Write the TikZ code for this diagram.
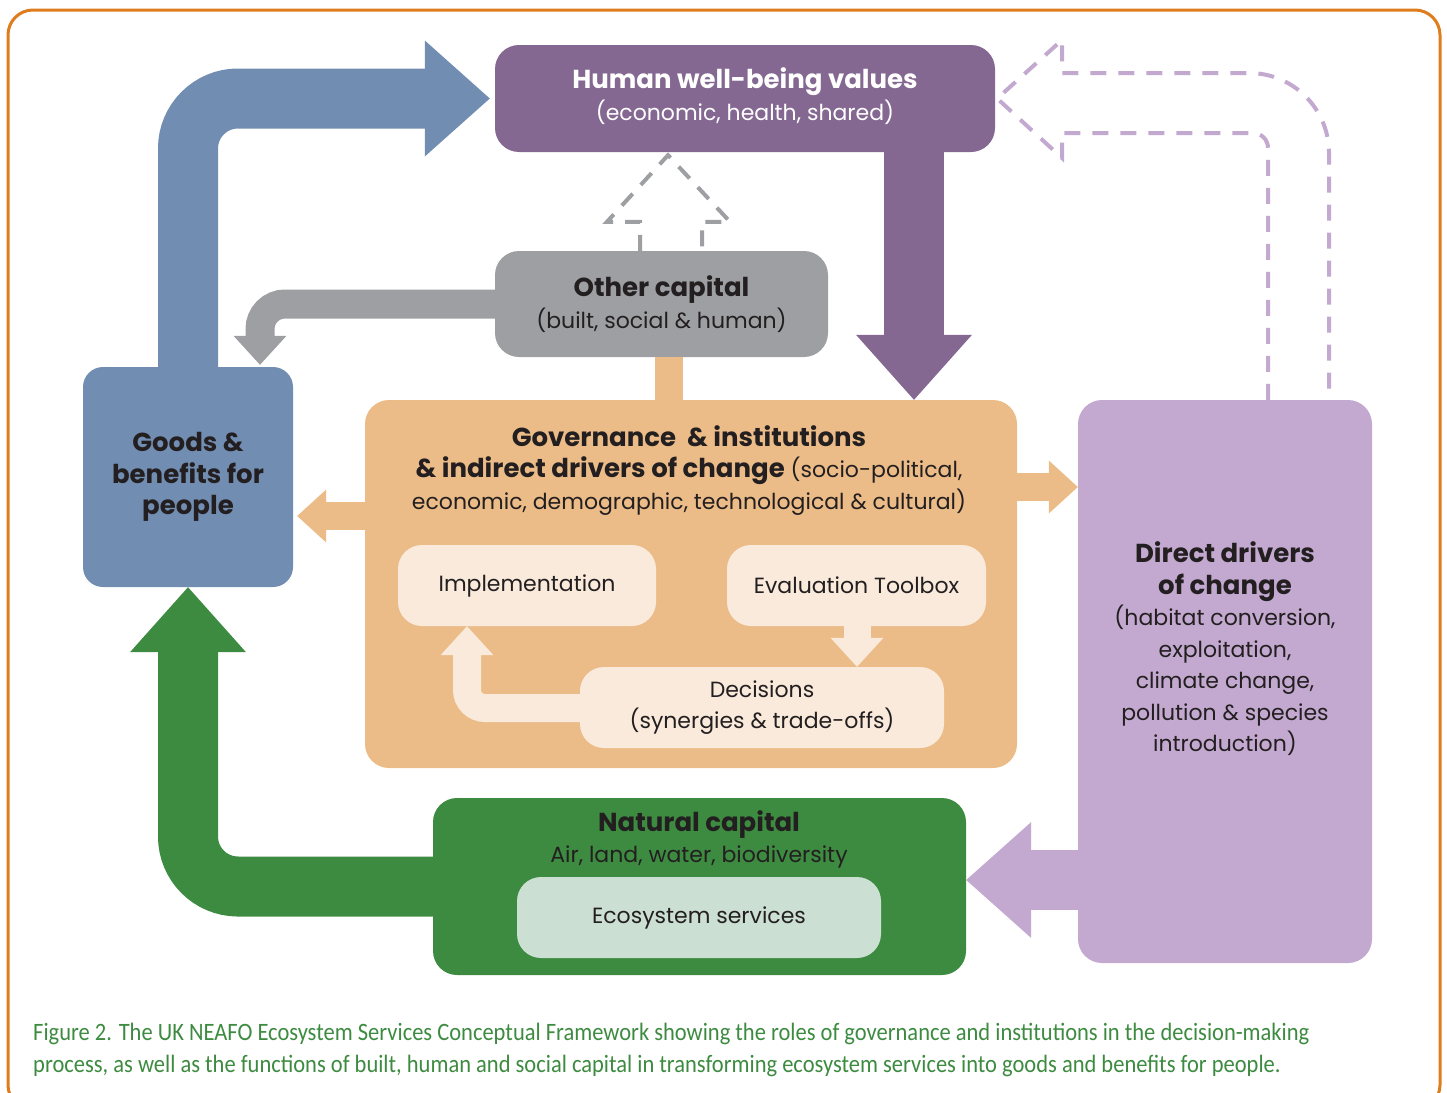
\documentclass[tikz,border=0pt]{standalone}
\usepackage{fontspec}
\setmainfont{Poppins}
\newfontfamily\capfont[FakeStretch=0.9]{Carlito}
\usetikzlibrary{arrows.meta,calc}

\definecolor{framecol}{RGB}{222,124,30}
\definecolor{wellcol}{RGB}{132,104,146}
\definecolor{othercol}{RGB}{157,159,162}
\definecolor{goodscol}{RGB}{114,141,178}
\definecolor{govcol}{RGB}{236,188,136}
\definecolor{creamcol}{RGB}{249,234,219}
\definecolor{drivecol}{RGB}{195,169,207}
\definecolor{natcol}{RGB}{61,139,64}
\definecolor{ecocol}{RGB}{204,223,211}
\definecolor{ink}{RGB}{35,31,32}

\newcommand{\bodytxt}{\fontsize{22}{31.5}\selectfont}
\newcommand{\headtxt}{\fontsize{26}{31.5}\selectfont\bfseries}

\tikzset{
  box/.style={rectangle, rounded corners=24pt, inner sep=0pt, align=center, text=ink, font=\bodytxt},
  fat/.style={line width=60pt, rounded corners=50pt, -{Triangle[length=65pt,width=116pt,line width=0pt]}},
  slim/.style={line width=28pt, rounded corners=24pt, -{Triangle[length=29pt,width=53pt,line width=0pt]}},
  dashline/.style={line width=4pt, dash pattern=on 16pt off 12pt},
}

\begin{document}
\begin{tikzpicture}[x=1pt,y=-1pt]
\useasboundingbox (0,0) rectangle (1447,1092);
\clip (0,0) rectangle (1447,1092);
\draw[framecol, line width=3pt, rounded corners=25pt] (8,10) rectangle (1440,1110);

% boxes
\node[box, fill=wellcol, minimum width=500pt, minimum height=107pt] (wellbeing) at (745,98.5) {};
\node[box, text=white] (welltext) at (745,96)
  {{\headtxt Human well-being values}\\(economic, health, shared)};
\node[box, fill=othercol, minimum width=333pt, minimum height=106pt] (other) at (661.5,304)
  {{\headtxt Other capital}\\(built, social \& human)};
\node[box, fill=goodscol, rounded corners=20pt, font=\headtxt, minimum width=210pt, minimum height=220pt] (goods) at (188,477)
  {Goods \&\\benefits for\\people};
\node[box, fill=govcol, minimum width=652pt, minimum height=368pt] (gov) at (691,584) {};
\node[box, anchor=north] (govtext) at (689,425)
  {{\headtxt Governance\ \ \& institutions}\\{\headtxt \& indirect drivers of change} (socio-political,\\economic, demographic, technological \& cultural)};
\node[box, fill=creamcol, minimum width=258pt, minimum height=81pt] (impl) at (527,585.5) {Implementation};
\node[box, fill=creamcol, minimum width=259pt, minimum height=81pt] (eval) at (856.5,585.5) {Evaluation Toolbox};
\node[box, fill=creamcol, minimum width=364pt, minimum height=81pt] (decisions) at (762,707.5)
  {Decisions\\(synergies \& trade-offs)};
\node[box, fill=drivecol, minimum width=294pt, minimum height=563pt] (drivers) at (1225,681.5) {};
\node[box] (drivetext) at (1225,649)
  {{\headtxt Direct drivers}\\{\headtxt of change}\\(habitat conversion,\\exploitation,\\climate change,\\pollution \& species\\introduction)};
\node[box, fill=natcol, minimum width=533pt, minimum height=177pt] (natural) at (699.5,886.5) {};
\node[box, anchor=north] (nattext) at (699,810)
  {{\headtxt Natural capital}\\Air, land, water, biodiversity};
\node[box, fill=ecocol, minimum width=364pt, minimum height=81pt] (eco) at (699,917.5) {Ecosystem services};

% helper coordinates
\coordinate (grayx) at (260,0);
\coordinate (purplex) at (914,0);
\coordinate (lavy) at (0,880);
\coordinate (orly) at (0,516);
\coordinate (orry) at (0,487);
\coordinate (linkx) at (669,0);
\coordinate (decy) at (0,708);
\coordinate (implx) at (467,0);
\coordinate (evalx) at (857,0);
\coordinate (dgl) at (640,0);
\coordinate (dgm) at (668,0);
\coordinate (dgr) at (702,0);
\coordinate (dvl) at (1268,0);
\coordinate (dvr) at (1329,0);

% big arrows
\draw[fat, goodscol] (goods.north) |- ([xshift=-5pt]wellbeing.west);
\draw[fat, wellcol] (wellbeing.south -| purplex) -- (gov.north -| purplex);
\draw[fat, drivecol] (drivers.west |- lavy) -- (natural.east |- lavy);
\draw[fat, natcol] (natural.west) -| (goods.south);
\draw[slim, othercol, line width=29pt, rounded corners=25pt, shorten >=2pt] (other.west) -| (goods.north -| grayx);

% orange arrows
\draw[slim, govcol, shorten >=4pt] (gov.west |- orly) -- (goods.east |- orly);
\draw[slim, govcol] (gov.east |- orry) -- (drivers.west |- orry);
\draw[govcol, line width=28pt] (other.south -| linkx) -- (gov.north -| linkx);

% inner arrows
\draw[slim, creamcol, rounded corners=18pt] (decisions.west |- decy) -| (impl.south -| implx);
\draw[slim, creamcol, line width=27pt] (eval.south -| evalx) -- (decisions.north -| evalx);

% dashed outline arrows
\draw[dashline, othercol] (other.north -| dgl) -- ++(0,-29) -- ++(-33,0)
  -- ($(wellbeing.south -| dgm)+(0,3)$) -- ($(other.north -| dgr)+(28,-29)$) -- ++(-28,0) -- (other.north -| dgr);
\draw[dashline, drivecol] (drivers.north -| dvl) [rounded corners=15pt] -- (1268,133)
  [sharp corners] -- (1062,133) -- (1062,158) -- ($(wellbeing.east)+(2,0)$) -- (1062,40) -- (1062,73)
  [rounded corners=80pt] -- (1329,73) [sharp corners] -- (drivers.north -| dvr);

% caption
\node[anchor=north west, align=left, inner sep=0pt, text=natcol, font=\capfont\fontsize{25}{32}\selectfont] (caption) at (33,1023)
  {Figure 2. The UK NEAFO Ecosystem Services Conceptual Framework showing the roles of governance and institutions in the decision-making\\process, as well as the functions of built, human and social capital in transforming ecosystem services into goods and benefits for people.};
\end{tikzpicture}
\end{document}
